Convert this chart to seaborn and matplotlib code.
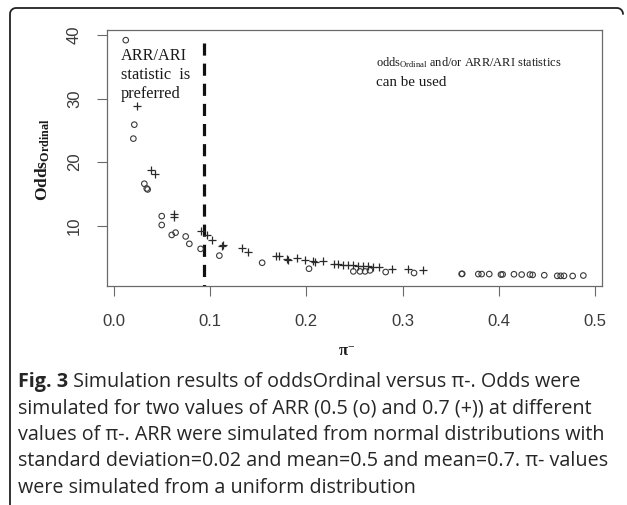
import matplotlib
matplotlib.use("Agg")
import matplotlib.pyplot as plt
import seaborn as sns
import numpy as np
import pandas as pd
from matplotlib.lines import Line2D

# ---------------- data ----------------
x_arr05 = [0.0122, 0.0211, 0.0201, 0.0315, 0.0340, 0.0350, 0.0496, 0.0496, 0.0600, 0.0640,
           0.0745, 0.0783, 0.0900, 0.1095, 0.1540, 0.2027, 0.2488, 0.2557, 0.2610, 0.2661,
           0.2824, 0.3119, 0.3614, 0.3620, 0.3787, 0.3822, 0.3901, 0.4023, 0.4040, 0.4158,
           0.4238, 0.4324, 0.4352, 0.4473, 0.4608, 0.4643, 0.4678, 0.4768, 0.4879]
y_arr05 = [39.2, 25.9, 23.7, 16.6, 15.85, 15.7, 11.5, 10.1, 8.54, 8.9,
           8.3, 7.14, 6.35, 5.28, 4.16, 3.22, 2.8, 2.8, 2.8, 2.96,
           2.7, 2.55, 2.4, 2.42, 2.38, 2.38, 2.38, 2.3, 2.33, 2.35,
           2.3, 2.3, 2.25, 2.2, 2.1, 2.1, 2.1, 2.08, 2.15]

x_arr07 = [0.0236, 0.0385, 0.0426, 0.0627, 0.0627, 0.0907, 0.0967, 0.1017, 0.1120, 0.1136,
           0.1327, 0.1396, 0.1680, 0.1710, 0.1795, 0.1810, 0.1900, 0.1985, 0.2070, 0.2090,
           0.2176, 0.2292, 0.2330, 0.2384, 0.2436, 0.2488, 0.2540, 0.2590, 0.2644, 0.2696,
           0.2758, 0.2887, 0.3060, 0.3210]
y_arr07 = [28.8, 18.7, 18.1, 11.9, 11.3, 9.1, 8.45, 7.8, 6.85, 7.0,
           6.56, 5.78, 5.15, 5.26, 4.74, 4.63, 4.9, 4.63, 4.37, 4.2,
           4.37, 4.0, 4.0, 3.85, 3.85, 3.74, 3.69, 3.69, 3.58, 3.49,
           3.49, 3.18, 3.12, 2.96]

cutoff_x = 0.094
cutoff_y = [38.7, 0.0]

x_ticks = [0.0, 0.1, 0.2, 0.3, 0.4, 0.5]
x_ticklabels = ["0.0", "0.1", "0.2", "0.3", "0.4", "0.5"]
y_ticks = [10, 20, 30, 40]
y_ticklabels = ["10", "20", "30", "40"]

caption_lines = [
    " Simulation results of oddsOrdinal versus π-. Odds were",
    "simulated for two values of ARR (0.5 (o) and 0.7 (+)) at different",
    "values of π-. ARR were simulated from normal distributions with",
    "standard deviation=0.02 and mean=0.5 and mean=0.7. π- values",
    "were simulated from a uniform distribution",
]

# ---------------- style ----------------
sns.set_style("white")
plt.rcParams["font.family"] = ["Liberation Sans", "DejaVu Sans"]
plt.rcParams["mathtext.fontset"] = "custom"
plt.rcParams["mathtext.rm"] = "Liberation Serif"
plt.rcParams["mathtext.it"] = "Liberation Serif:italic"
plt.rcParams["mathtext.bf"] = "Liberation Serif:bold"

W, H = 627, 505
fig = plt.figure(figsize=(W / 100, H / 100), dpi=100)
fig.patch.set_facecolor("white")

def fx(px):
    return px / W

def fy(py):
    return 1 - py / H

ax = fig.add_axes([fx(107), fy(286), fx(601.7) - fx(107), fy(30) - fy(286)])

df05 = pd.DataFrame({"pi": x_arr05, "odds": y_arr05})
df07 = pd.DataFrame({"pi": x_arr07, "odds": y_arr07})

sns.scatterplot(data=df05, x="pi", y="odds", marker="o", s=16,
                facecolors="none", edgecolor="#3a3a3a", linewidth=0.8, ax=ax, zorder=3)
sns.scatterplot(data=df07, x="pi", y="odds", marker="+", s=36,
                color="#2a2a2a", linewidth=0.9, ax=ax, zorder=3)

ax.plot([cutoff_x, cutoff_x], cutoff_y, color="#111111", lw=2.3,
        ls=(0, (3.8, 2.5)), solid_capstyle="butt", dash_capstyle="butt", zorder=2)

ax.set_xlim(-0.0073, 0.507)
ax.set_ylim(0.5, 40.8)
ax.set_xticks(x_ticks)
ax.set_xticklabels(x_ticklabels)
ax.set_yticks(y_ticks)
ax.set_yticklabels(y_ticklabels, rotation=90, va="center")
ax.set_xlabel("")
ax.set_ylabel("")

for sp in ax.spines.values():
    sp.set_visible(True)
    sp.set_color("#6a6a6a")
    sp.set_linewidth(0.9)

ax.tick_params(axis="both", which="both", direction="out", length=7, width=0.8,
               color="#6a6a6a", labelsize=12, labelcolor="#3a3a3a",
               bottom=True, left=True)
ax.tick_params(axis="x", pad=13)
ax.tick_params(axis="y", pad=11)

# annotations
serif = ["Liberation Serif", "DejaVu Serif"]
for txt, by in [("ARR/ARI", 60.5), ("statistic  is", 79.3), ("preferred", 98.3)]:
    fig.text(fx(120.7), fy(by), txt, family=serif, fontsize=11.7, color="#1a1a1a",
             ha="left", va="baseline")
fig.text(fx(376), fy(66.7), r"odds$_{\mathrm{Ordinal}}$ and/or ARR/ARI statistics",
         family=serif, fontsize=8.95, color="#1a1a1a", ha="left", va="baseline")
fig.text(fx(376), fy(86.2), "can be used", family=serif, fontsize=10.8, color="#1a1a1a",
         ha="left", va="baseline")

# axis labels
fig.text(fx(43), fy(160), r"$\mathbf{Odds}_{\mathbf{Ordinal}}$", rotation=90,
         fontsize=12.5, color="#1a1a1a", ha="center", va="center")
fig.text(fx(347), fy(352), r"$\mathbf{π}^{-}$", fontsize=12, color="#1a1a1a",
         ha="center", va="center")

# frame border
r = 6
arc1 = [(10 + r - r * np.cos(t), 8 + r - r * np.sin(t)) for t in np.linspace(0, np.pi / 2, 8)]
arc2 = [(623 - r + r * np.sin(t), 8 + r - r * np.cos(t)) for t in np.linspace(0, np.pi / 2, 8)]
pts = [(10, 506)] + arc1 + arc2
fig.add_artist(Line2D([fx(p[0]) for p in pts], [fy(p[1]) for p in pts],
                      transform=fig.transFigure, color="#222222", lw=1.3))

# caption
cap_font = ["Open Sans", "DejaVu Sans"]
cap_size = 14.2
cap_x = 18
cap_color = "#262626"
baselines = [387, 413.5, 440, 466.5, 493]
renderer = fig.canvas.get_renderer()
t0 = fig.text(fx(cap_x), fy(baselines[0]), "Fig. 3", family=cap_font, fontweight="bold",
              fontsize=cap_size, color=cap_color, ha="left", va="baseline")
bb = t0.get_window_extent(renderer=renderer)
fig.text(bb.x1 / W, fy(baselines[0]), caption_lines[0], family=cap_font,
         fontsize=cap_size, color=cap_color, ha="left", va="baseline")
for line, by in zip(caption_lines[1:], baselines[1:]):
    fig.text(fx(cap_x), fy(by), line, family=cap_font, fontsize=cap_size,
             color=cap_color, ha="left", va="baseline")

fig.savefig("out.png", dpi=100, facecolor="white")
